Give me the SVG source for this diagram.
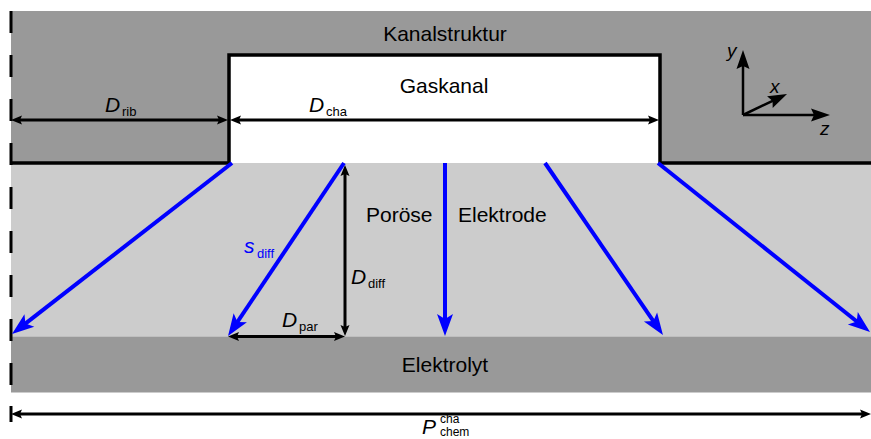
<svg xmlns="http://www.w3.org/2000/svg" width="871" height="439" viewBox="0 0 871 439">
<style>
text{font-family:"Liberation Sans",Arial,sans-serif;fill:#000}
.lbl{font-size:21px}
.it{font-style:italic}
.sub{font-size:13px}
.sup{font-size:12px}
.dim{stroke:#000;stroke-width:3;fill:none;marker-start:url(#ah);marker-end:url(#ah)}
.flow{stroke:#0000ff;stroke-width:4;fill:none;marker-end:url(#bh)}
.axis{stroke:#000;stroke-width:2.5;fill:none;marker-end:url(#xh)}
</style>
<defs>
<marker id="ah" markerUnits="userSpaceOnUse" orient="auto-start-reverse" refX="-5" refY="0" overflow="visible">
<path d="M0,0 L-11,-4.5 L-9,0 L-11,4.5 Z" fill="#000"/>
</marker>
<marker id="bh" markerUnits="userSpaceOnUse" orient="auto" refX="-10" refY="0" overflow="visible">
<path d="M0,0 L-22,-8 L-17,0 L-22,8 Z" fill="#0000ff"/>
</marker>
<marker id="xh" markerUnits="userSpaceOnUse" orient="auto" refX="-10" refY="0" overflow="visible">
<path d="M0,0 L-19,-6.5 L-16,0 L-19,6.5 Z" fill="#000"/>
</marker>
</defs>

<g id="kanalstruktur">
<rect x="11" y="11" width="860" height="152" fill="#999999"/>
<text class="lbl" x="445" y="41" text-anchor="middle">Kanalstruktur</text>
</g>
<g id="elektrode">
<rect x="11" y="163" width="860" height="173.5" fill="#cccccc"/>
<text class="lbl" x="366" y="222">Poröse</text>
<text class="lbl" x="458" y="222">Elektrode</text>
</g>
<g id="elektrolyt">
<rect x="11" y="336.5" width="860" height="56" fill="#999999"/>
<text class="lbl" x="445" y="372" text-anchor="middle">Elektrolyt</text>
</g>
<g id="gaskanal">
<rect x="229" y="55" width="431" height="108" fill="#ffffff"/>
<path d="M11,163 H229 V55 H660 V163 H871" fill="none" stroke="#000" stroke-width="3.5"/>
<text class="lbl" x="444" y="93" text-anchor="middle">Gaskanal</text>
</g>
<g id="symmetry">
<line x1="11" y1="11" x2="11" y2="392" stroke="#000" stroke-width="3" stroke-dasharray="22 22"/>
<line x1="11" y1="406" x2="11" y2="422" stroke="#000" stroke-width="3"/>
</g>
<g id="achsen">
<line class="axis" x1="743" y1="115" x2="743" y2="60"/>
<line class="axis" x1="743" y1="115" x2="820" y2="115"/>
<line class="axis" x1="743" y1="115" x2="778" y2="98.3"/>
<text class="it" x="727" y="57" font-size="19">y</text>
<text class="it" x="770" y="93" font-size="19">x</text>
<text class="it" x="820" y="135" font-size="19">z</text>
</g>
<g id="connectors">
<line class="dim" x1="16" y1="120" x2="223" y2="120"/>
<line class="dim" x1="235" y1="120" x2="654" y2="120"/>
<line class="dim" x1="345" y1="170" x2="345" y2="331"/>
<line class="dim" x1="233" y1="336.5" x2="340" y2="336.5"/>
<line class="dim" x1="16" y1="414" x2="866" y2="414"/>
<line class="flow" x1="232" y1="163" x2="19.9" y2="327.9"/>
<line class="flow" x1="344" y1="163" x2="233.6" y2="327.7"/>
<line class="flow" x1="445" y1="163" x2="445" y2="326"/>
<line class="flow" x1="545" y1="163" x2="657.3" y2="326.8"/>
<line class="flow" x1="658" y1="163" x2="862.2" y2="325.8"/>
</g>
<g id="labels">
<text class="lbl it" x="105" y="112">D</text><text class="sub" x="122" y="116">rib</text>
<text class="lbl it" x="309" y="112">D</text><text class="sub" x="326" y="116">cha</text>
<text class="lbl it" x="244" y="253" style="fill:#0000ff">s</text><text class="sub" x="257" y="258" style="fill:#0000ff">diff</text>
<text class="lbl it" x="351" y="284">D</text><text class="sub" x="368" y="288">diff</text>
<text class="lbl it" x="282" y="327">D</text><text class="sub" x="299" y="331">par</text>
<text class="lbl it" x="422" y="434">P</text><text class="sup" x="440" y="423">cha</text><text class="sup" x="440" y="435.5">chem</text>
</g>
</svg>
